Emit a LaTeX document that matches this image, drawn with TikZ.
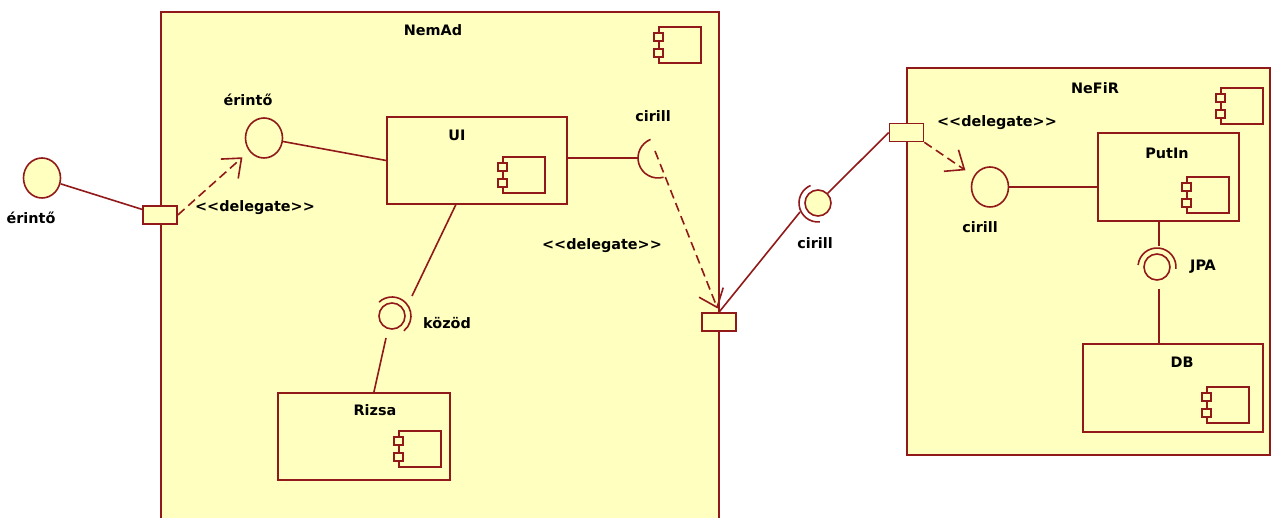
\documentclass[tikz,border=0pt]{standalone}
\usepackage{fontspec}
\setmainfont{DejaVu Sans}
\usepackage{xcolor}
\usetikzlibrary{positioning, arrows.meta, shapes.geometric}
\definecolor{umlred}{RGB}{145,25,25}
\definecolor{umlyellow}{RGB}{255,255,192}
\newcommand{\stereo}[1]{<\kern0pt<#1>\kern0pt>}
\tikzset{
    every node/.style={font=\fontsize{14.4}{17}\selectfont\bfseries, inner sep=0pt}, % bold labels
    comp/.style={draw=umlred, fill=umlyellow, rectangle}, % component box
    port/.style={draw=umlred, fill=umlyellow, rectangle, minimum width=34, minimum height=18}, % port on a border
    ball/.style={draw=umlred, fill=umlyellow, ellipse, minimum width=37, minimum height=40}, % provided interface
    smallball/.style={draw=umlred, fill=umlyellow, circle, minimum size=26}, % ball inside a socket
    link/.style={draw=umlred},
    socket/.style={draw=umlred},
    delegate/.style={draw=umlred, dash pattern=on 9pt off 5pt, -{Straight Barb[length=16pt,width=26pt]}},
    icon/.pic={
        \draw[umlred, line width=1.3pt] (0,0) rectangle (42,36);
        \draw[umlred, fill=umlyellow, line width=1.3pt] (-5,6) rectangle (4,14);
        \draw[umlred, fill=umlyellow, line width=1.3pt] (-5,22) rectangle (4,30);
    },
}

\begin{document}
\begin{tikzpicture}[x=1pt, y=-1pt, line width=1.6pt]
    \useasboundingbox (0,0) rectangle (1272,518);
    \clip (0,0) rectangle (1272,518);

    % outer components
    \node[comp, minimum width=558, minimum height=528] (nemad) at (440,276) {};
    \node (nemadtitle) at (433,30) {NemAd};
    \pic at (659,27) {icon};
    \node[comp, minimum width=363, minimum height=387] (nefir) at (1088.5,261.5) {};
    \node (nefirtitle) at (1095,88) {NeFiR};
    \pic at (1221,88) {icon};

    % inside NemAd
    \node[comp, minimum width=180, minimum height=87] (ui) at (477,160.5) {};
    \node (uititle) at (457,135) {UI};
    \pic at (503,157) {icon};
    \node[comp, minimum width=172, minimum height=87] (rizsa) at (364,436.5) {};
    \node (rizsatitle) at (375,410) {Rizsa};
    \pic at (399,431) {icon};

    \node[ball] (interinto) at (264,138) {};
    \node (interintolabel) at (248,100) {érintő};
    \draw[link] (interinto) -- (ui.west);

    \coordinate (cirsockin) at (638,158);
    \coordinate (cirdel) at (655,151);
    \draw[socket] (658,158) ++(74:20) arc[start angle=74, end angle=248, radius=20];
    \draw[link] (ui.east |- cirsockin) -- (cirsockin);
    \node (cirilllabel) at (653,116) {cirill};

    \node[smallball] (kozodball) at (392,316) {};
    \draw[socket] (kozodball.center) ++(-133:19) arc[start angle=-133, end angle=51, radius=19];
    \coordinate (kozodin) at (412,296);
    \coordinate (kozodout) at (386,338);
    \draw[link] (ui) -- (kozodin);
    \draw[link] (kozodout) -- (rizsa);
    \node (kozodlabel) at (447,323) {közöd};

    % outside
    \node[ball] (extinto) at (42,178) {};
    \node (extintolabel) at (31,218) {érintő};

    \node[smallball] (extball) at (818,203) {};
    \draw[socket] (extball.center) ++(84:19) arc[start angle=84, end angle=247, radius=19];
    \coordinate (extsockin) at (800,212);
    \node (extcirilllabel) at (815,243) {cirill};

    % inside NeFiR
    \node[comp, minimum width=141, minimum height=88] (putin) at (1168.5,177) {};
    \node (putintitle) at (1167,153) {PutIn};
    \pic at (1187,177) {icon};
    \node[comp, minimum width=180, minimum height=88] (db) at (1173,388) {};
    \node (dbtitle) at (1182,362) {DB};
    \pic at (1207,387) {icon};

    \node[ball] (nefcirill) at (990,187) {};
    \node (nefcirilllabel) at (980,227) {cirill};
    \draw[link] (nefcirill) -- (nefcirill -| putin.west);

    \node[smallball] (jpaball) at (1157,267) {};
    \draw[socket] (jpaball.center) ++(-174:19) arc[start angle=-174, end angle=6, radius=19];
    \coordinate (jpatop) at (1159,246);
    \coordinate (jpabot) at (1159,289);
    \draw[link] (jpatop |- putin.south) -- (jpatop);
    \draw[link] (jpabot) -- (jpabot |- db.north);
    \node (jpalabel) at (1203,267) {JPA};

    % ports
    \node[port] (lport) at (160,215) {};
    \node[port] (rport) at (719,322) {};
    \node[port] (nport) at (906.5,132.5) {};

    \draw[link] (extinto) -- (lport);
    \draw[delegate, shorten >=9pt] (lport.east) -- (interinto);
    \node (ldelegate) at (255,208) {\stereo{delegate}};

    \draw[delegate, shorten >=4pt] (cirdel) -- (rport.north);
    \node (mdelegate) at (602,246) {\stereo{delegate}};

    \draw[link] (rport.north) -- (extsockin);
    \draw[link] (extball) -- (nport.west);

    \draw[delegate, shorten >=10pt] (nport.south east) -- (nefcirill);
    \node (rdelegate) at (997,123) {\stereo{delegate}};
\end{tikzpicture}
\end{document}
